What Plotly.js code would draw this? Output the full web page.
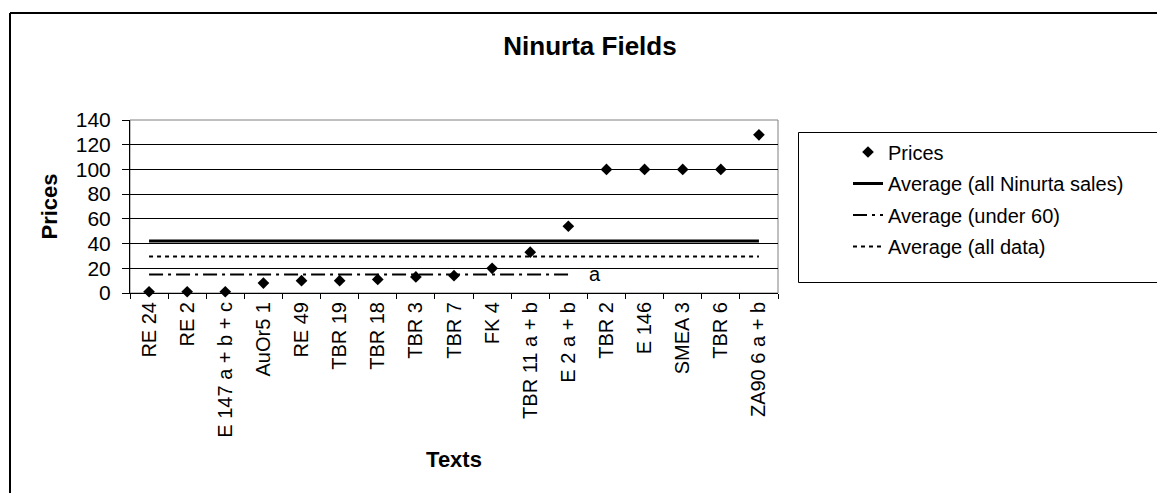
<!DOCTYPE html>
<html>
<head>
<meta charset="utf-8">
<script src="https://cdn.plot.ly/plotly-3.0.1.min.js"></script>
<style>
  html, body { margin: 0; padding: 0; background: #fff; overflow: hidden; }
  #chart { width: 1157px; height: 493px; }
</style>
</head>
<body>
<div id="chart"></div>
<script>
// ---- data ----
const categories = ["RE 24", "RE 2", "E 147 a + b + c", "AuOr5 1", "RE 49", "TBR 19", "TBR 18",
  "TBR 3", "TBR 7", "FK 4", "TBR 11 a + b", "E 2 a + b", "TBR 2", "E 146", "SMEA 3", "TBR 6", "ZA90 6 a + b"];
const prices = [1, 1, 1, 8, 10, 10, 11, 13, 14, 20, 33, 54, 100, 100, 100, 100, 128];
const avgAllNinurta = 42;     // solid line
const avgUnder60 = 15;        // dash-dot line, RE 24 .. E 2 a + b
const avgAllData = 29.5;      // dotted line
const under60Last = "E 2 a + b";
const yTicks = [0, 20, 40, 60, 80, 100, 120, 140];

// ---- layout geometry ----
const W = 1157, H = 493;
const ml = 130, mr = 1157 - 778, mt = 120, mb = 493 - 293;
const plotW = W - ml - mr, plotH = H - mt - mb;
const pxX = px => (px - ml) / plotW;
const pxY = py => (H - mb - py) / plotH;
const FONT = "Liberation Sans, Arial, sans-serif";

const traces = [
  {
    type: "scatter", mode: "markers", name: "Prices", legendgroup: "g1",
    x: categories, y: prices,
    marker: { symbol: "diamond", size: 9, color: "#000" },
    cliponaxis: false
  },
  {
    type: "scatter", mode: "lines", name: "Average (all Ninurta sales)", legendgroup: "g2",
    x: [categories[0], categories[categories.length - 1]], y: [avgAllNinurta, avgAllNinurta],
    line: { color: "#000", width: 3 }
  },
  {
    type: "scatter", mode: "lines", name: "Average (under 60)", legendgroup: "g3",
    x: [categories[0], under60Last], y: [avgUnder60, avgUnder60],
    line: { color: "#000", width: 2, dash: "14px,5px,3px,5px" }
  },
  {
    type: "scatter", mode: "lines", name: "Average (all data)", legendgroup: "g4",
    x: [categories[0], categories[categories.length - 1]], y: [avgAllData, avgAllData],
    line: { color: "#000", width: 2, dash: "4px,4px" }
  }
];

const layout = {
  width: W, height: H,
  margin: { l: ml, r: mr, t: mt, b: mb, pad: 0 },
  paper_bgcolor: "#fff", plot_bgcolor: "#fff",
  font: { family: FONT, size: 20, color: "#000" },
  title: {
    text: "<b>Ninurta Fields</b>",
    font: { family: FONT, size: 26, color: "#000" },
    xref: "container", x: 590 / W, xanchor: "center",
    yref: "container", y: 1 - 46 / H, yanchor: "middle"
  },
  showlegend: true,
  legend: {
    xref: "paper", yref: "paper",
    x: pxX(848), y: pxY(132.5), xanchor: "left", yanchor: "top",
    bgcolor: "rgba(0,0,0,0)", borderwidth: 0,
    font: { family: FONT, size: 20, color: "#000" },
    tracegroupgap: 2.5
  },
  xaxis: {
    type: "category",
    range: [-0.5, categories.length - 0.5],
    showgrid: false, zeroline: false,
    showline: true, linecolor: "#000", linewidth: 1,
    ticks: "outside", ticklen: 5, tickcolor: "#000", tickwidth: 1,
    tickson: "boundaries",
    tickangle: -90,
    tickfont: { family: FONT, size: 20, color: "#000" },
    automargin: false,
    title: { text: "<b>Texts</b>", font: { family: FONT, size: 22, color: "#000" }, standoff: 14 }
  },
  yaxis: {
    range: [0, 140],
    tickvals: yTicks, ticktext: yTicks.map(String),
    showgrid: true, gridcolor: "#000", gridwidth: 1,
    zeroline: false,
    showline: true, linecolor: "#000", linewidth: 1,
    ticks: "outside", ticklen: 7, tickcolor: "#000", tickwidth: 1,
    ticklabelstandoff: 7,
    tickfont: { family: FONT, size: 21, color: "#000" },
    automargin: false,
    title: { text: "<b>Prices</b>", font: { family: FONT, size: 22, color: "#000" }, standoff: 12 }
  },
  shapes: [
    { type: "rect", xref: "paper", yref: "paper", x0: 0, x1: 1, y0: 0, y1: 1,
      line: { color: "#808080", width: 1 }, layer: "below" },
    { type: "line", xref: "paper", yref: "paper", x0: pxX(10), x1: pxX(10), y0: pxY(13), y1: pxY(H + 20),
      line: { color: "#000", width: 2 } },
    { type: "line", xref: "paper", yref: "paper", x0: pxX(10), x1: pxX(W + 20), y0: pxY(13), y1: pxY(13),
      line: { color: "#000", width: 2 } },
    // legend frame
    { type: "rect", xref: "paper", yref: "paper", x0: pxX(798.5), x1: pxX(W + 20), y0: pxY(282.5), y1: pxY(132.5),
      line: { color: "#000", width: 1 }, fillcolor: "rgba(0,0,0,0)" }
  ],
  annotations: [
    { text: "a", xref: "x", yref: "y", x: 11.5, y: avgUnder60,
      xanchor: "left", yanchor: "middle", showarrow: false,
      font: { family: FONT, size: 20, color: "#000" } }
  ]
};

Plotly.newPlot("chart", traces, layout, { displayModeBar: false, staticPlot: true });
</script>
</body>
</html>
